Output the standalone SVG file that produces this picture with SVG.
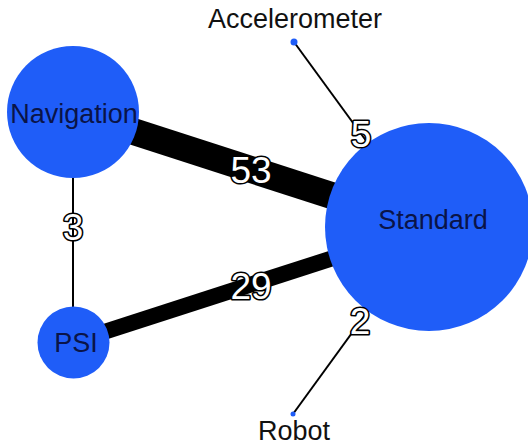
<svg xmlns="http://www.w3.org/2000/svg" width="528" height="446" viewBox="0 0 528 446">
<style>
.node{fill:#1f5df8}
.lbl{font-family:"Liberation Sans",Arial,sans-serif;font-size:27px;fill:#0a1448;text-anchor:middle}
.ext{font-family:"Liberation Sans",Arial,sans-serif;font-size:27px;fill:#111;text-anchor:middle}
.edge{stroke:#000;stroke-linecap:butt}
.w{font-family:"Liberation Sans",Arial,sans-serif;font-size:37px;fill:#fff;stroke:#000;stroke-width:3.2;paint-order:stroke;stroke-linejoin:round;text-anchor:middle}
</style>
<rect width="528" height="446" fill="#fff"/>
<g id="connectors">
<line class="edge" x1="73" y1="112" x2="429" y2="227" stroke-width="27"/>
<line class="edge" x1="73" y1="342" x2="429" y2="227" stroke-width="16"/>
<line class="edge" x1="73" y1="112" x2="73" y2="342" stroke-width="2"/>
<line class="edge" x1="294" y1="42" x2="429" y2="227" stroke-width="2"/>
<line class="edge" x1="293" y1="414" x2="429" y2="227" stroke-width="2"/>
</g>
<g id="node-navigation">
<circle class="node" cx="73" cy="112" r="66"/>
<text class="lbl" x="74" y="123">Navigation</text>
</g>
<g id="node-standard">
<circle class="node" cx="429" cy="227" r="104"/>
<text class="lbl" x="433" y="229">Standard</text>
</g>
<g id="node-psi">
<circle class="node" cx="73.5" cy="342.5" r="36"/>
<text class="lbl" x="76" y="352">PSI</text>
</g>
<g id="node-accelerometer">
<circle class="node" cx="294" cy="42" r="3.5"/>
<text class="ext" x="295" y="28">Accelerometer</text>
</g>
<g id="node-robot">
<circle class="node" cx="293" cy="414" r="2.5"/>
<text class="ext" x="294" y="440">Robot</text>
</g>
<g id="edge-labels">
<text class="w" x="251" y="183">53</text>
<text class="w" x="251" y="299">29</text>
<text class="w" x="73" y="240">3</text>
<text class="w" x="361" y="147">5</text>
<text class="w" x="360" y="334">2</text>
</g>
</svg>
